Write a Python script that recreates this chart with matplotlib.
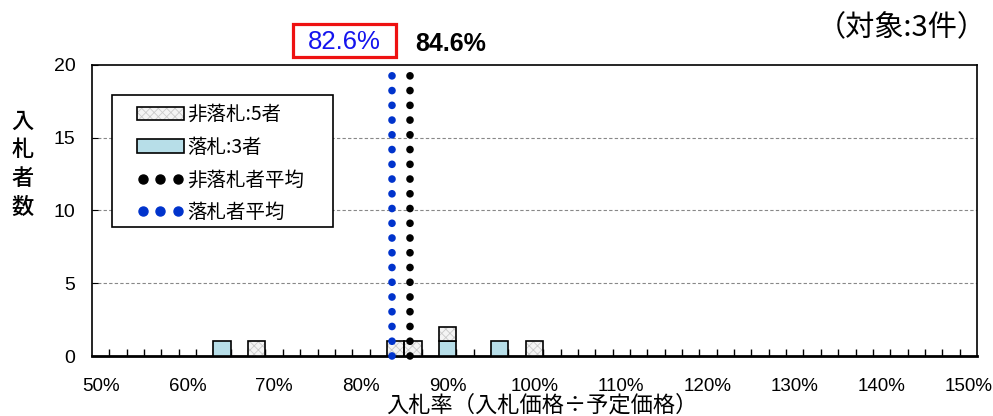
import matplotlib.pyplot as plt
from matplotlib.patches import Patch, Rectangle
from matplotlib.lines import Line2D

plt.rcParams['font.family'] = ['Liberation Sans', 'Noto Sans CJK JP', 'DejaVu Sans']
plt.rcParams['hatch.linewidth'] = 0.6

# bid-rate bins (%) and counts
win_rates = [64, 90, 96]
win_counts = [1, 1, 1]
lose_rates = [68, 84, 86, 90, 100]
lose_counts = [1, 1, 1, 1, 1]
win_avg = 82.6
lose_avg = 84.6
x_labels = ['50%', '60%', '70%', '80%', '90%', '100%', '110%', '120%', '130%', '140%', '150%']
x_label_pos = [50, 60, 70, 80, 90, 100, 110, 120, 130, 140, 150]

blue_fill = '#B7DEE8'
dot_blue = '#0033CC'
cjk = ['Noto Sans CJK JP', 'DejaVu Sans']

fig = plt.figure(figsize=(9.93, 4.16), dpi=100)
ax = fig.add_axes([0.0926, 0.1442, 0.8913, 0.6996])

ax.bar(win_rates, win_counts, width=2, color=blue_fill, edgecolor='black', linewidth=1.2, zorder=3)
bottoms = [win_counts[win_rates.index(r)] if r in win_rates else 0 for r in lose_rates]
ax.bar(lose_rates, lose_counts, width=2, bottom=bottoms, color='#F4F4F4', edgecolor='#CACACA',
       hatch='xxxx', linewidth=0, zorder=3)
ax.bar(lose_rates, lose_counts, width=2, bottom=bottoms, color='none', edgecolor='black',
       linewidth=1.2, zorder=4)

# average lines (Excel draws them one bin-half to the right)
dot_style = (0, (0.01, 1.92))
ax.plot([win_avg + 1, win_avg + 1], [0, 19.3], color=dot_blue, lw=5.5, ls=dot_style,
        dash_capstyle='round', zorder=5, clip_on=False)
ax.plot([lose_avg + 1, lose_avg + 1], [0, 19.3], color='black', lw=5.5, ls=dot_style,
        dash_capstyle='round', zorder=5, clip_on=False)

ax.set_xlim(49, 151)
ax.set_ylim(0, 20)
ax.set_xticks(x_label_pos)
ax.set_xticklabels(x_labels)
ax.set_xticks([r + 1 for r in range(50, 150, 2)], minor=True)
ax.tick_params(axis='x', which='major', length=0, labelsize=13.5, pad=16)
ax.tick_params(axis='x', which='minor', direction='in', length=5, width=1)
ax.set_yticks([0, 5, 10, 15, 20])
ax.tick_params(axis='y', direction='in', length=4, labelsize=14, pad=12)
for y in [5, 10, 15]:
    ax.axhline(y, color='#888888', lw=0.8, ls=(0, (3, 2)), zorder=1)
for s in ax.spines.values():
    s.set_linewidth(1.2)
    s.set_color('black')
ax.spines['bottom'].set_linewidth(2)

# legend: frame drawn separately so the padding matches the original
ax.add_patch(Rectangle((112 / 993, 1 - 227 / 416), 221 / 993, 132 / 416,
                       transform=fig.transFigure, facecolor='white', edgecolor='black',
                       linewidth=1.2, zorder=5.5, clip_on=False))
handles = [
    (Patch(facecolor='#F4F4F4', edgecolor='#CACACA', hatch='xxxx', linewidth=0),
     Patch(facecolor='none', edgecolor='black', linewidth=1.2)),
    Patch(facecolor=blue_fill, edgecolor='black', linewidth=1.2),
    Line2D([], [], color='black', ls='', marker='o', ms=6.5),
    Line2D([], [], color=dot_blue, ls='', marker='o', ms=6.5),
]
labels = ['非落札:5者', '落札:3者', '非落札者平均', '落札者平均']
leg = ax.legend(handles, labels, loc='upper left', bbox_to_anchor=(0.0508, 0.865),
                prop={'family': cjk, 'size': 14}, frameon=False, numpoints=3,
                handlelength=2.4, handleheight=0.7, labelspacing=0.6, borderpad=0,
                handletextpad=0.2, borderaxespad=0)
leg.set_zorder(6)

fig.text(0.546, 0.027, '入札率（入札価格÷予定価格）', family=cjk, fontsize=16,
         ha='center', va='center')
fig.text(0.023, 0.605, '入\n札\n者\n数', family=cjk, fontsize=16, ha='center', va='center',
         linespacing=1.33, weight='medium')

fig.patches.append(Rectangle((293 / 993, 1 - 57 / 416), 103 / 993, 33 / 416,
                             transform=fig.transFigure, facecolor='white', edgecolor='#EE1111',
                             linewidth=2.3))
fig.text(0.347, 0.9, f'{win_avg}%', color='#1414EE', fontsize=18.5, ha='center', va='center')
fig.text(0.454, 0.894, f'{lose_avg}%', color='black', fontsize=18, ha='center', va='center',
         weight='bold')
fig.text(0.994, 0.933, '（対象:3件）', family=cjk, fontsize=21, ha='right', va='center')

fig.savefig('out.png', dpi=100)
